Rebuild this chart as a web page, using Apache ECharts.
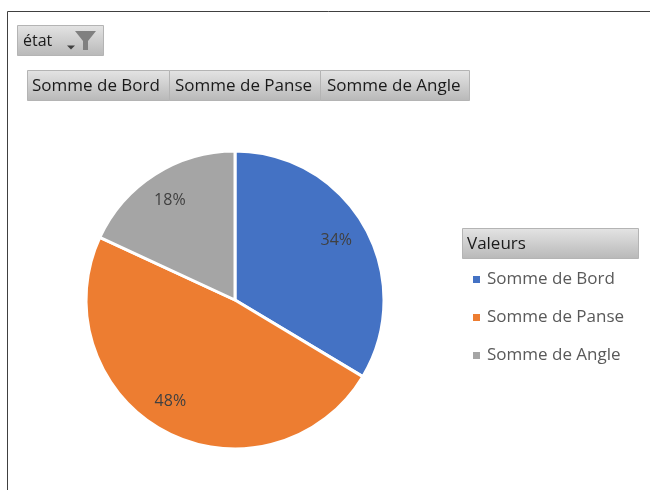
<!DOCTYPE html>
<html><head><meta charset="utf-8">
<style>html,body{margin:0;padding:0;background:#fff}#c{width:650px;height:490px}</style>
<script src="https://cdn.jsdelivr.net/npm/echarts@6/dist/echarts.min.js"></script>
</head><body><div id="c"></div>
<script>
const categories = ['Somme de Bord', 'Somme de Panse', 'Somme de Angle'];
const values = [33.6, 48.3, 18.1];
const colors = ['#4472C4', '#ED7D31', '#A5A5A5'];
const FONT = '"Open Sans","Noto Sans",sans-serif';
const labelNudge = [[-4,0],[-8,-5],[0,2]];
const grad = { type:'linear', x:0, y:0, x2:0, y2:1, colorStops:[{offset:0,color:'#E4E4E4'},{offset:1,color:'#B8B8B8'}] };
function btn(x,y,w,h,text,tx,size){
  return [
    {type:'rect',shape:{x,y,width:w,height:h},style:{fill:grad,stroke:'#B4B4B4',lineWidth:1}},
    {type:'text',x:tx,y:y+h/2+0.5,style:{text,fill:'#1A1A1A',font:size+'px '+FONT,textVerticalAlign:'middle'}}
  ];
}
const pieData = categories.map((name,i)=>({name,value:values[i],itemStyle:{color:colors[i]}}));
const chart = echarts.init(document.getElementById('c'),null,{renderer:'canvas'});
chart.setOption({
  animation:false,
  legend:{orient:'vertical',left:466,top:266,icon:'rect',itemWidth:9,itemHeight:9,itemGap:21,
    data:categories,selectedMode:false,
    textStyle:{color:'#595959',fontSize:17,fontFamily:FONT,lineHeight:17,padding:[0,0,0,1]}},
  series:[
    {type:'pie',center:[235,300],radius:[0,149],startAngle:90,clockwise:true,silent:true,
     label:{show:false},labelLine:{show:false},
     itemStyle:{borderColor:'#fff',borderWidth:3},data:pieData},
    {type:'pie',center:[235,300],radius:[87,149],startAngle:90,clockwise:true,silent:true,
     percentPrecision:0,legendHoverLink:false,
     label:{show:true,position:'inside',formatter:'{d}%',color:'#404040',fontSize:16,fontFamily:FONT},
     labelLine:{show:false},
     itemStyle:{color:'transparent',borderWidth:0},
     data:categories.map((name,i)=>({name,value:values[i],itemStyle:{color:'transparent'},
       label:{offset:labelNudge[i]}}))}
  ],
  graphic:{elements:[
    {type:'line',shape:{x1:7.5,y1:11.5,x2:650,y2:11.5},style:{stroke:'#404040',lineWidth:1}},
    {type:'line',shape:{x1:7.5,y1:11.5,x2:7.5,y2:490},style:{stroke:'#404040',lineWidth:1}},
    ...btn(17.5,25.5,86,30,'état',23,16),
    {type:'polygon',shape:{points:[[67,45.5],[75,45.5],[71,49.5]]},style:{fill:'#404040'}},
    {type:'polygon',shape:{points:[[75,31],[96,31],[88,41],[88,50],[83,50],[83,41]]},style:{fill:'#808080'}},
    ...btn(27.5,70.5,142,30,categories[0],32,17),
    ...btn(169.5,70.5,151,30,categories[1],175,17),
    ...btn(320.5,70.5,149,30,categories[2],327,17),
    ...btn(462.5,228.5,176,30,'Valeurs',467,17)
  ]}
});
</script></body></html>
